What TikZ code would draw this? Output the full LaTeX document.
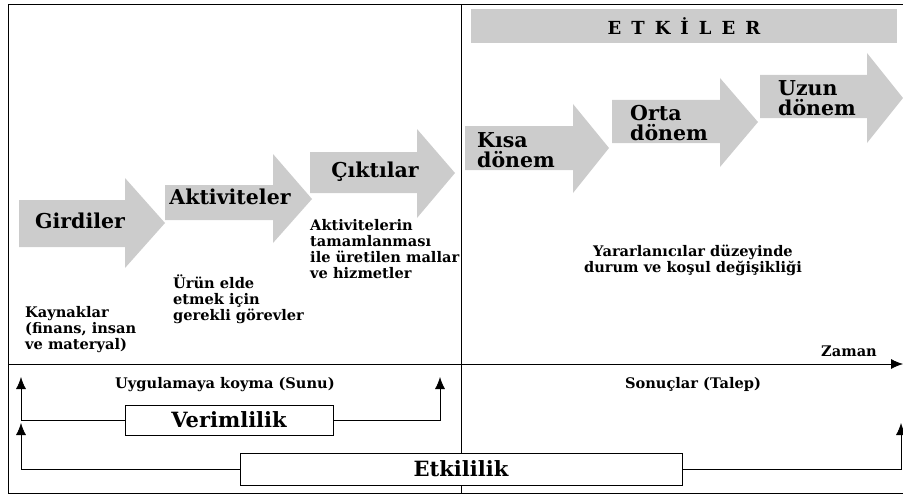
\documentclass[tikz,border=0pt]{standalone}
\usepackage{fontspec}
\setmainfont{DejaVu Serif}
\usetikzlibrary{arrows.meta}

\definecolor{arrowgray}{HTML}{CCCCCC}

\tikzset{
  blockarrow/.style={fill=arrowgray, draw=none},
  bigtext/.style={font=\bfseries\fontsize{20.5}{20}\selectfont, inner sep=0pt, align=left},
  smalltext/.style={font=\bfseries\fontsize{14.6}{16}\selectfont, inner sep=0pt, align=left},
  framebox/.style={draw, line width=0.8pt, fill=white, inner sep=0pt},
  flowline/.style={line width=0.8pt, -{Latex[length=12pt,width=10pt]}},
}

\begin{document}
\begin{tikzpicture}[x=1pt, y=-1pt]
\useasboundingbox (0,0) rectangle (903,495);

% Frame and the divider
\draw[line width=1pt] (903,5) -- (8,5) -- (8,493) -- (903,493);
\draw[line width=0.8pt] (461,5) -- (461,493);

% Block arrows, left half
\fill[blockarrow] (19,200) -- (125,200) -- (125,178) -- (165,223) -- (125,268) -- (125,247) -- (19,247) -- cycle;
\fill[blockarrow] (165,185) -- (273,185) -- (273,154) -- (312,199) -- (273,243) -- (273,220) -- (165,220) -- cycle;
\fill[blockarrow] (310,152) -- (417,152) -- (417,129) -- (455,173) -- (417,218) -- (417,193) -- (310,193) -- cycle;

% Block arrows, right half
\fill[blockarrow] (465,126) -- (573,126) -- (573,104) -- (609,148) -- (573,193) -- (573,170) -- (465,170) -- cycle;
\fill[blockarrow] (612,100) -- (720,100) -- (720,78) -- (758,122) -- (720,167) -- (720,143) -- (612,143) -- cycle;
\fill[blockarrow] (760,75) -- (867,75) -- (867,53) -- (903,98) -- (867,143) -- (867,118) -- (760,118) -- cycle;

% Arrow labels
\node[bigtext, anchor=base] (girdiler) at (80,228) {Girdiler};
\node[bigtext, anchor=base] (aktiviteler) at (230,204) {Aktiviteler};
\node[bigtext, anchor=base] (ciktilar) at (375,177) {Çıktılar};
\node[bigtext, anchor=north west] (kisa) at (477,132) {Kısa\\dönem};
\node[bigtext, anchor=north west] (orta) at (630,105) {Orta\\dönem};
\node[bigtext, anchor=north west] (uzun) at (778,80) {Uzun\\dönem};

% Heading bar
\node[fill=arrowgray, minimum width=426pt, minimum height=34pt, inner sep=0pt,
      font=\bfseries\fontsize{18}{20}\selectfont] (etkiler) at (684,26)
  {E\hspace{10pt}T\hspace{10pt}K\hspace{10pt}İ\hspace{10pt}L\hspace{10pt}E\hspace{10pt}R};

% Descriptions
\node[smalltext, anchor=north west] (kaynak) at (25,306) {Kaynaklar\\(finans, insan\\ve materyal)};
\node[smalltext, anchor=north west] (gorev) at (173,275) {Ürün elde\\etmek için\\gerekli görevler};
\node[smalltext, anchor=north west] (mallar) at (310,219) {Aktivitelerin\\tamamlanması\\ile üretilen mallar\\ve hizmetler};
\node[smalltext, anchor=north, align=center] (degisim) at (693,245) {Yararlanıcılar düzeyinde\\durum ve koşul değişikliği};

% Time line
\coordinate (t0) at (8,364);
\coordinate (t1) at (903,364);
\draw[flowline] (t0) -- (t1);
\node[smalltext, anchor=base] (zaman) at (849,356) {Zaman};

\node[smalltext, anchor=base] (sunu) at (225,388) {Uygulamaya koyma (Sunu)};
\node[smalltext, anchor=base] (talep) at (693,388) {Sonuçlar (Talep)};

% Boxes and their arrows
\node[framebox, minimum width=208pt, minimum height=30pt, font=\bfseries\fontsize{21}{22}\selectfont] (verim) at (229,420) {Verimlilik};
\node[framebox, minimum width=442pt, minimum height=32pt, font=\bfseries\fontsize{21}{22}\selectfont] (etkili) at (461,469) {Etkililik};

\coordinate (vl) at (21,377);
\coordinate (vr) at (440,377);
\coordinate (el) at (21,423);
\coordinate (er) at (901,423);
\draw[flowline] (verim.west) -| (vl);
\draw[flowline] (verim.east) -| (vr);
\draw[flowline] (etkili.west) -| (el);
\draw[flowline] (etkili.east) -| (er);
\end{tikzpicture}
\end{document}
